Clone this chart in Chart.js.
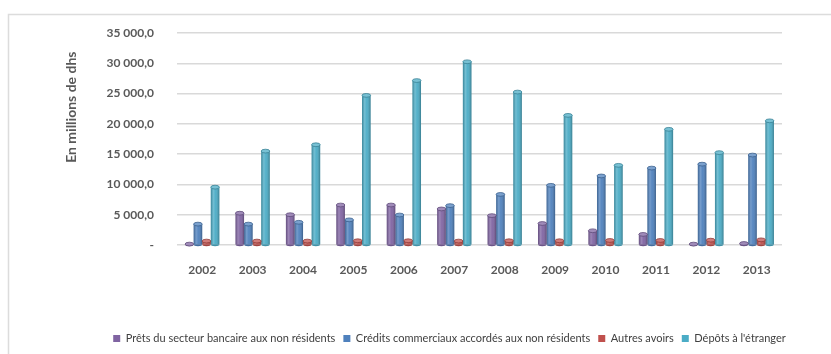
<!DOCTYPE html>
<html>
<head>
<meta charset="utf-8">
<script src="https://cdn.jsdelivr.net/npm/chart.js@4.4.1/dist/chart.umd.min.js"></script>
<style>
  html, body { margin: 0; padding: 0; background: #ffffff; }
  #wrap { position: relative; width: 831px; height: 354px; }
</style>
</head>
<body>
<div id="wrap"><canvas id="chart"></canvas></div>
<script>
// Avoirs extérieurs, en millions de dirhams
const years = ['2002', '2003', '2004', '2005', '2006', '2007', '2008', '2009', '2010', '2011', '2012', '2013'];
const pretsBancaires = [150, 5250, 5000, 6600, 6600, 5950, 4850, 3550, 2350, 1750, 150, 250];
const creditsCommerciaux = [3450, 3450, 3750, 4150, 4950, 6500, 8350, 9850, 11400, 12700, 13350, 14850];
const autresAvoirs = [650, 650, 650, 700, 700, 650, 700, 700, 750, 750, 800, 850];
const depotsEtranger = [9550, 15500, 16550, 24700, 27150, 30250, 25250, 21400, 13150, 19100, 15250, 20500];
const yTicks = [0, 5000, 10000, 15000, 20000, 25000, 30000, 35000];
const yTitle = 'En millions de dhs';

const seriesNames = [
  'Prêts du secteur bancaire aux non résidents',
  'Crédits commerciaux accordés aux non résidents',
  'Autres avoirs',
  'Dépôts à l\'étranger'
];
const seriesColors = ['#8064A2', '#4F81BD', '#C0504D', '#4BACC6'];

const FONT = 'Lato, "Noto Sans", sans-serif';

function fmtThousands(v) {
  if (v === 0) return '-';
  const s = Math.round(v).toString().replace(/\B(?=(\d{3})+(?!\d))/g, ' ');
  return s + ',0';
}

function mix(hex, target, t) {
  const n = parseInt(hex.slice(1), 16);
  const r = (n >> 16) & 255, g = (n >> 8) & 255, b = n & 255;
  const m = (c) => Math.round(c + (target - c) * t);
  return `rgb(${m(r)},${m(g)},${m(b)})`;
}

// Outer frame of the chart object
const framePlugin = {
  id: 'frame',
  beforeDraw(chart) {
    const ctx = chart.ctx;
    ctx.save();
    ctx.strokeStyle = '#DCDCDC';
    ctx.lineWidth = 1.5;
    ctx.beginPath();
    ctx.moveTo(8.5, chart.height);
    ctx.lineTo(8.5, 14.5);
    ctx.lineTo(chart.width, 14.5);
    ctx.stroke();
    ctx.restore();
  }
};

// Vertical axis caption, set in the upper part of the value axis
const axisCaption = {
  id: 'axisCaption',
  afterDraw(chart) {
    const ctx = chart.ctx;
    const area = chart.chartArea;
    ctx.save();
    ctx.translate(71, area.top + (area.bottom - area.top) * 0.35);
    ctx.rotate(-Math.PI / 2);
    ctx.fillStyle = '#595959';
    ctx.font = 'bold 14px ' + FONT;
    ctx.textAlign = 'center';
    ctx.textBaseline = 'middle';
    ctx.fillText(yTitle, 0, 0);
    ctx.restore();
  }
};

// Shift the legend row so it sits under the plot like in the report layout
const legendShift = {
  id: 'legendShift',
  afterLayout(chart) {
    const lg = chart.legend;
    if (lg) { lg.left += 29; lg.right += 29; }
  }
};

// Cylinder shading and elliptic caps over the bars drawn by Chart.js
const cylinderPlugin = {
  id: 'cylinder',
  afterDatasetsDraw(chart) {
    const ctx = chart.ctx;
    chart.data.datasets.forEach((ds, i) => {
      const meta = chart.getDatasetMeta(i);
      if (meta.hidden) return;
      const col = ds.backgroundColor;
      meta.data.forEach((bar) => {
        const { x, y, base, width } = bar.getProps(['x', 'y', 'base', 'width'], true);
        const l = x - width / 2, r = x + width / 2;
        const ry = Math.max(1.5, width * 0.22);
        ctx.save();
        const g = ctx.createLinearGradient(l, 0, r, 0);
        g.addColorStop(0, 'rgba(0,0,0,0.22)');
        g.addColorStop(0.3, 'rgba(255,255,255,0.22)');
        g.addColorStop(0.55, 'rgba(255,255,255,0.05)');
        g.addColorStop(1, 'rgba(0,0,0,0.28)');
        ctx.fillStyle = g;
        ctx.fillRect(l, y, width, base - y);
        // bottom rim
        ctx.beginPath();
        ctx.ellipse(x, base, width / 2, ry, 0, 0, Math.PI);
        ctx.fillStyle = mix(col, 0, 0.15);
        ctx.fill();
        // top cap
        ctx.beginPath();
        ctx.ellipse(x, y, width / 2, ry, 0, 0, Math.PI * 2);
        ctx.fillStyle = mix(col, 255, 0.25);
        ctx.fill();
        ctx.lineWidth = 0.8;
        ctx.strokeStyle = mix(col, 0, 0.25);
        ctx.stroke();
        ctx.restore();
      });
    });
  }
};

const seriesValues = [pretsBancaires, creditsCommerciaux, autresAvoirs, depotsEtranger];

new Chart(document.getElementById('chart'), {
  type: 'bar',
  data: {
    labels: years,
    datasets: seriesValues.map((vals, i) => ({
      label: seriesNames[i],
      data: vals,
      backgroundColor: seriesColors[i],
      borderWidth: 0,
      barPercentage: 1.0,
      categoryPercentage: 0.68
    }))
  },
  options: {
    responsive: true,
    maintainAspectRatio: false,
    animation: false,
    layout: { padding: { left: 59, right: 49, top: 33, bottom: 0 } },
    plugins: {
      tooltip: { enabled: false },
      legend: {
        position: 'bottom',
        labels: {
          boxWidth: 7,
          boxHeight: 7,
          padding: 8,
          color: '#404040',
          font: { family: FONT, size: 11 },
          generateLabels(chart) {
            return chart.data.datasets.map((ds, i) => ({
              text: ds.label,
              fillStyle: ds.backgroundColor,
              strokeStyle: ds.backgroundColor,
              lineWidth: 0,
              hidden: false,
              datasetIndex: i,
              fontColor: '#404040'
            }));
          }
        }
      }
    },
    scales: {
      x: {
        grid: { display: false },
        border: { display: false },
        ticks: {
          color: '#595959',
          padding: 10,
          font: { family: FONT, size: 12, weight: 'bold' }
        },
        afterFit(scale) { scale.height = 80; }
      },
      y: {
        min: 0,
        max: 35000,
        afterBuildTicks(scale) { scale.ticks = yTicks.map(v => ({ value: v })); },
        grid: { color: '#D9D9D9', lineWidth: 1.5, drawTicks: false },
        border: { display: false },
        ticks: {
          color: '#595959',
          padding: 23,
          font: { family: FONT, size: 12, weight: 'bold' },
          callback: (v) => fmtThousands(v)
        },
        afterFit(scale) { scale.width = 118; }
      }
    }
  },
  plugins: [framePlugin, axisCaption, legendShift, cylinderPlugin]
});
</script>
</body>
</html>
